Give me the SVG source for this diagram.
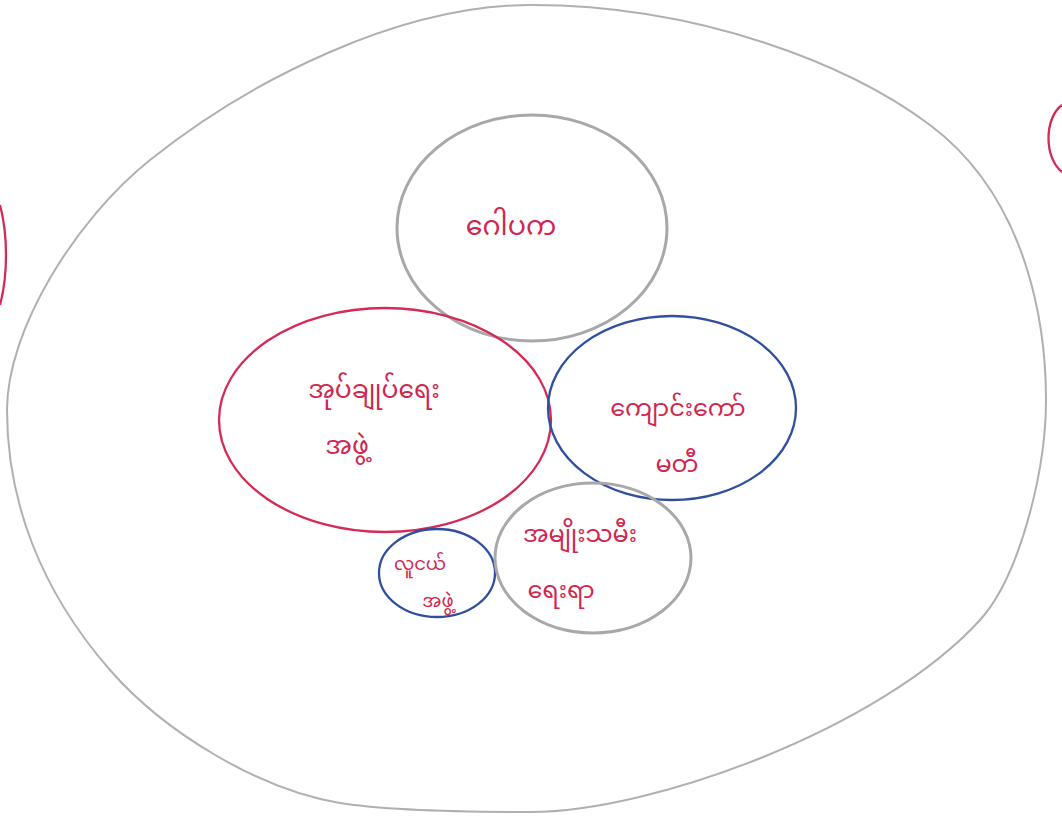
<svg xmlns="http://www.w3.org/2000/svg" width="1062" height="819" viewBox="0 0 1062 819">
<style>
.g{fill:none;stroke:#a6a8aa;stroke-width:3}
.o{fill:none;stroke:#aeb0b3;stroke-width:2}
.r{fill:none;stroke:#d42a55;stroke-width:2.3}
.b{fill:none;stroke:#2f4f9e;stroke-width:2.3}
.t{fill:#d0264f;font-family:"Noto Sans Myanmar","Padauk","Myanmar Text","Noto Sans",sans-serif;font-size:25px;text-anchor:middle}
.m{font-size:24px}
.s{font-size:18px}
</style>
<rect width="1062" height="819" fill="#fff"/>
<g id="arc-left"><path class="r" d="M 0 205 C 8 235, 8 275, 0 305"/></g>
<g id="arc-right"><path class="r" d="M 1062 105 C 1044 118, 1044 158, 1062 172"/></g>
<g id="outer"><path class="o" d="M 7 410 C 7 500, 40 590, 110 670 C 165 733, 260 790, 340 803 C 390 811, 470 812, 531 812 C 650 812, 880 730, 980 620 C 1020 576, 1046 470, 1046 400 C 1046 330, 1030 200, 930 125 C 850 65, 700 5, 531 5 C 400 5, 250 80, 150 160 C 75 220, 7 330, 7 410 Z"/></g>
<g id="n1"><ellipse class="g" cx="532" cy="228" rx="135" ry="113"/><text class="t" x="511" y="235" style="font-size:27px">ဂေါပက</text></g>
<g id="n2"><ellipse class="r" cx="385" cy="420" rx="166" ry="112"/><text class="t" x="374" y="398">အုပ်ချုပ်ရေး</text><text class="t" x="347" y="454">အဖွဲ့</text></g>
<g id="n3"><ellipse class="b" cx="672" cy="408" rx="124" ry="92"/><text class="t m" x="678" y="416">ကျောင်းကော်</text><text class="t m" x="677" y="472">မတီ</text></g>
<g id="n4"><ellipse class="b" cx="437" cy="573" rx="58" ry="44"/><text class="t s" x="420" y="570">လူငယ်</text><text class="t s" x="438" y="607">အဖွဲ့</text></g>
<g id="n5"><ellipse class="g" cx="593" cy="558" rx="98" ry="75"/><text class="t m" x="580" y="542">အမျိုးသမီး</text><text class="t m" x="561" y="598">ရေးရာ</text></g>
<g id="connectors"></g>
</svg>
